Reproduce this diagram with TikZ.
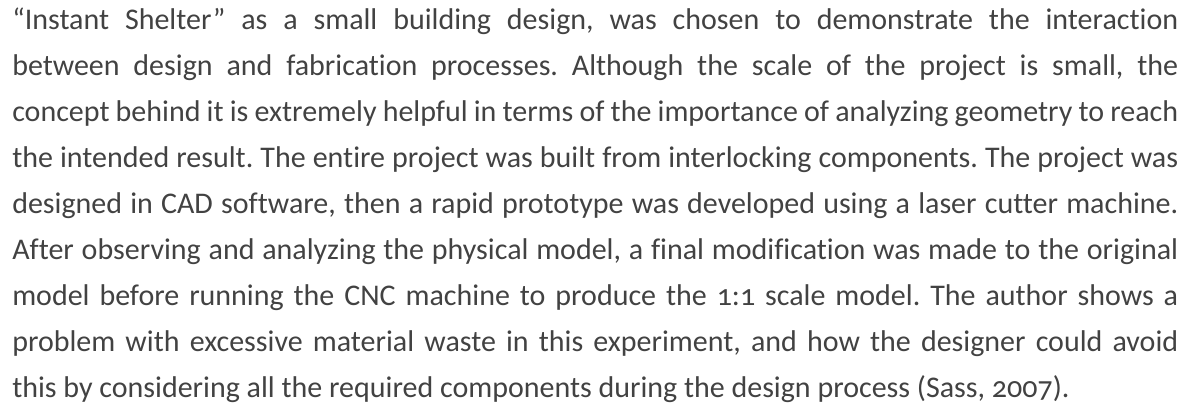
\documentclass[tikz,border=0pt]{standalone}
\usepackage{fontspec}
\setmainfont{Carlito}[Numbers=OldStyle, Ligatures=NoCommon, WordSpace={1,1,2}]
\usetikzlibrary{positioning}
\definecolor{textgray}{RGB}{66,66,66}

\begin{document}
\frenchspacing
\begin{tikzpicture}[para/.style={anchor=base west, inner sep=0pt, text width=874.5pt,
	align=justify, text=textgray, font=\fontsize{22.5pt}{34.5pt}\selectfont}]
\useasboundingbox (0,0) rectangle (893.25pt,308.25pt);
\node [para] (txt) at (9pt,285.75pt) {%
“Instant Shelter” as a small building design, was chosen to demonstrate the interaction\linebreak
between design and fabrication processes. Although the scale of the project is small, the\linebreak
concept behind it is extremely helpful in terms of the importance of analyzing geometry to reach\linebreak
the intended result. The entire project was built from interlocking components. The project was\linebreak
designed in CAD software, then a rapid prototype was developed using a laser cutter machine.\linebreak
After observing and analyzing the physical model, a final modification was made to the original\linebreak
model before running the CNC machine to produce the 1:1 scale model. The author shows a\linebreak
problem with excessive material waste in this experiment, and how the designer could avoid\linebreak
this by considering all the required components during the design process (Sass, 2007).};
\end{tikzpicture}
\end{document}
